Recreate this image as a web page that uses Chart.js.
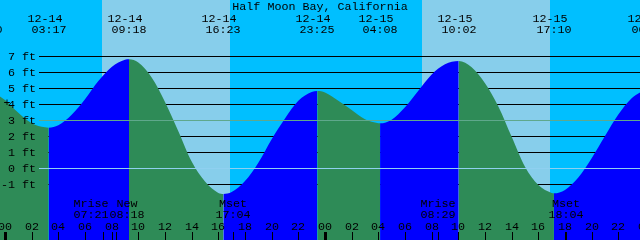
<!DOCTYPE html>
<html>
<head>
<meta charset="utf-8">
<script src="https://cdn.jsdelivr.net/npm/chart.js@4.4.1/dist/chart.umd.min.js"></script>
<style>
  html, body { margin: 0; padding: 0; background: #00bfff; }
  #wrap { width: 640px; height: 240px; position: relative; }
</style>
</head>
<body>
<div id="wrap"><canvas id="tide"></canvas></div>
<script>
// hours since 12-14 00:00 and water level in feet
const tideHours = [-1.5, -1, 0, 1, 2, 3, 3.28, 4, 5, 6, 7, 8, 9, 9.3,
  10, 11, 12, 13, 14, 15, 16, 16.38, 17, 18, 19, 20, 21, 22, 23, 23.42,
  24, 25, 26, 27, 28, 28.13, 29, 30, 31, 32, 33, 34.03,
  35, 36, 37, 38, 39, 40, 41, 41.17, 42, 43, 44, 45, 46, 47, 48, 48.34];
const tideFeet = [4.85, 4.75, 4.25, 3.45, 2.8, 2.54, 2.52, 2.67, 3.33, 4.3, 5.43, 6.32, 6.76, 6.79,
  6.59, 5.65, 4.12, 2.3, 0.4, -0.85, -1.56, -1.62, -1.5, -0.82, 0.33, 1.8, 3.1, 4.2, 4.75, 4.81,
  4.72, 4.2, 3.62, 3.05, 2.8, 2.79, 3.02, 3.8, 4.83, 5.85, 6.48, 6.69,
  6.3, 5.3, 3.85, 1.95, 0.08, -1.07, -1.56, -1.58, -1.37, -0.6, 0.61, 2.0, 3.34, 4.36, 4.86, 4.9];

const eventDates = ["12-13", "12-14", "12-14", "12-14", "12-14", "12-15", "12-15", "12-15", "12-16"];
const eventTimes = ["22:30", "03:17", "09:18", "16:23", "23:25", "04:08", "10:02", "17:10", "00:20"];

const sunriseHours = [7.25, 31.3];
const sunsetHours = [16.87, 40.87];

const moonNames = ["Mrise", "New", "Mset", "Mrise", "Mset"];
const moonDates = ["12-14", "12-14", "12-14", "12-15", "12-15"];
const moonTimes = ["07:21", "08:18", "17:04", "08:29", "18:04"];

const feetValues = [7, 6, 5, 4, 3, 2, 1, 0, -1];
const feetLabels = ["7 ft", "6 ft", "5 ft", "4 ft", "3 ft", "2 ft", "1 ft", "0 ft", "-1 ft"];
const hourLabels = ["00", "02", "04", "06", "08", "10", "12", "14", "16", "18", "20", "22"];

const title = "Half Moon Bay, California";

const FONT = '11.7px "Liberation Mono", "DejaVu Sans Mono", monospace';

function toHours(date, time) {
  const day = parseInt(date.split("-")[1], 10);
  const [hh, mm] = time.split(":").map(Number);
  return (day - 14) * 24 + hh + mm / 60;
}

const tideDecor = {
  id: "tideDecor",
  beforeDatasetsDraw(chart) {
    const { ctx, chartArea: a, scales: { x, y } } = chart;
    ctx.save();
    ctx.fillStyle = "#00bfff";
    ctx.fillRect(a.left, a.top, a.right - a.left, a.bottom - a.top);
    ctx.fillStyle = "#87ceeb";
    sunriseHours.forEach((h, i) => {
      const x0 = Math.round(x.getPixelForValue(h));
      const x1 = Math.round(x.getPixelForValue(sunsetHours[i]));
      ctx.fillRect(x0, a.top, x1 - x0, a.bottom - a.top);
    });
    ctx.fillStyle = "#000";
    feetValues.forEach(v => {
      ctx.fillRect(39, Math.round(y.getPixelForValue(v)), a.right - 39, 1);
    });
    ctx.restore();
  },
  afterDatasetsDraw(chart) {
    const { ctx, chartArea: a, scales: { x, y } } = chart;
    ctx.save();
    // mean level and datum lines sit on top of the water
    ctx.fillStyle = "#5fa88c";
    ctx.fillRect(39, Math.round(y.getPixelForValue(3)), a.right - 39, 1);
    ctx.fillStyle = "#8fd0f0";
    ctx.fillRect(39, Math.round(y.getPixelForValue(0)), a.right - 39, 1);

    ctx.font = FONT;
    ctx.fillStyle = "#000";
    ctx.textBaseline = "alphabetic";

    // y labels
    ctx.textAlign = "right";
    feetValues.forEach((v, i) => {
      ctx.fillText(feetLabels[i], 36, Math.round(y.getPixelForValue(v)) + 4);
    });
    ctx.textAlign = "center";
    ctx.fillText("+", 7, 106);

    // title
    ctx.fillText(title, 320, 10);

    // high / low labels
    eventDates.forEach((d, i) => {
      const px = Math.round(x.getPixelForValue(toHours(d, eventTimes[i])));
      ctx.fillText(d, px - 4, 22);
      ctx.fillText(eventTimes[i], px, 33);
    });

    // hour ticks and labels
    for (let h = 0; h <= 48; h += 2) {
      const px = Math.round(x.getPixelForValue(h));
      if (h % 24 === 0) ctx.fillRect(px - 1, 232, 3, 8);
      else ctx.fillRect(px, 232, 1, 8);
      ctx.fillText(hourLabels[(h / 2) % 12], px, 230);
    }

    // moon events, spread apart when they collide
    const mx = moonDates.map((d, i) => x.getPixelForValue(toHours(d, moonTimes[i])));
    const cx = mx.slice();
    for (let i = 0; i < cx.length - 1; i++) {
      const gap = cx[i + 1] - cx[i];
      if (gap < 36) {
        const s = (36 - gap) / 2;
        cx[i] -= s;
        cx[i + 1] += s;
      }
    }
    moonNames.forEach((n, i) => {
      ctx.fillRect(Math.round(mx[i]), 232, 1, 8);
      ctx.fillText(n, Math.round(cx[i]), 207);
      ctx.fillText(moonTimes[i], Math.round(cx[i]), 218);
    });
    ctx.restore();
  }
};

new Chart(document.getElementById("tide"), {
  type: "line",
  data: {
    datasets: [{
      data: tideHours.map((h, i) => ({ x: h, y: tideFeet[i] })),
      fill: "start",
      borderColor: "transparent",
      borderWidth: 0,
      pointRadius: 0,
      cubicInterpolationMode: "monotone",
      backgroundColor: "#2e8b57",
      segment: {
        backgroundColor: c => (c.p1.parsed.y > c.p0.parsed.y ? "#0000ff" : "#2e8b57")
      }
    }]
  },
  options: {
    responsive: true,
    maintainAspectRatio: false,
    animation: false,
    events: [],
    layout: { padding: 0 },
    plugins: { legend: { display: false }, tooltip: { enabled: false } },
    scales: {
      x: { type: "linear", min: -0.375, max: 47.625, display: false },
      y: { min: -4.5, max: 10.5, display: false }
    }
  },
  plugins: [tideDecor]
});
</script>
</body>
</html>
